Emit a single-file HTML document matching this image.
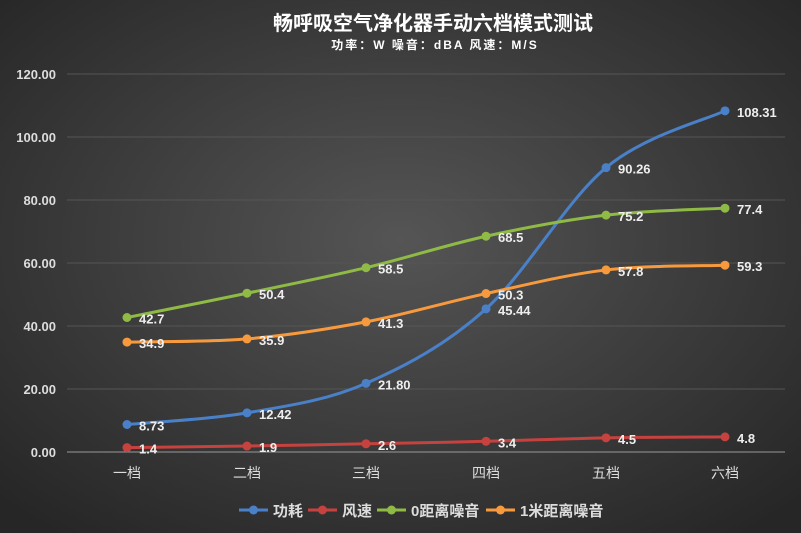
<!DOCTYPE html>
<html><head><meta charset="utf-8"><style>
html,body{margin:0;padding:0;width:801px;height:533px;overflow:hidden;background:#333;}
svg{display:block;font-family:"Liberation Sans","Noto Sans CJK SC",sans-serif;}
</style></head><body>
<svg id="c" width="801" height="533" xmlns="http://www.w3.org/2000/svg">
<defs><radialGradient id="bg" cx="50%" cy="45%" r="70%">
<stop offset="0" stop-color="#555"/><stop offset="1" stop-color="#262626"/></radialGradient></defs>
<rect width="801" height="533" fill="url(#bg)"/>
<text x="433" y="30" text-anchor="middle" fill="#fff" font-size="20" font-weight="bold" font-family="'Noto Sans CJK SC',sans-serif">畅呼吸空气净化器手动六档模式测试</text>
<text x="435" y="49" text-anchor="middle" fill="#fff" font-size="12" font-weight="bold" letter-spacing="2" font-family="'Liberation Sans','Noto Sans CJK SC',sans-serif">功率：W  噪音：dBA  风速：M/S</text>
<g id="g"></g>
</svg>
<script>
const g=document.getElementById('g');let h='';
const y0=452,k=378/120,xs=[127,247,366,486,606,725];
for(let v=0;v<=120;v+=20){const y=y0-v*k;
h+=`<line x1="67" x2="785" y1="${y}" y2="${y}" stroke="${v==0?'#999':'#555'}" stroke-width="1"/>`;
h+=`<text x="56" y="${y+5}" text-anchor="end" fill="#ddd" font-size="13" font-weight="bold">${v.toFixed(2)}</text>`;}
['一档','二档','三档','四档','五档','六档'].forEach((t,i)=>h+=`<text x="${xs[i]}" y="478" text-anchor="middle" fill="#ddd" font-size="14">${t}</text>`);
const S=[
{n:'功耗',c:'#4a80c8',d:[8.73,12.42,21.80,45.44,90.26,108.31],l:['8.73','12.42','21.80','45.44','90.26','108.31']},
{n:'风速',c:'#c5423f',d:[1.4,1.9,2.6,3.4,4.5,4.8]},
{n:'0距离噪音',c:'#8fba45',d:[42.7,50.4,58.5,68.5,75.2,77.4]},
{n:'1米距离噪音',c:'#f79a3e',d:[34.9,35.9,41.3,50.3,57.8,59.3]}];
S.forEach(s=>{const P=s.d.map((v,i)=>[xs[i],y0-v*k]);let d=`M${P[0][0]},${P[0][1]}`;
for(let i=0;i<P.length-1;i++){const p0=P[Math.max(0,i-1)],p1=P[i],p2=P[i+1],p3=P[Math.min(P.length-1,i+2)],t=6;
d+=` C${p1[0]+(p2[0]-p0[0])/t},${p1[1]+(p2[1]-p0[1])/t} ${p2[0]-(p3[0]-p1[0])/t},${p2[1]-(p3[1]-p1[1])/t} ${p2[0]},${p2[1]}`;}
h+=`<path d="${d}" fill="none" stroke="${s.c}" stroke-width="3"/>`;
P.forEach((p,i)=>{h+=`<circle cx="${p[0]}" cy="${p[1]}" r="4.5" fill="${s.c}"/>`;
h+=`<text x="${p[0]+12}" y="${p[1]+6}" fill="#eee" font-size="13" font-weight="bold">${s.l?s.l[i]:s.d[i]}</text>`;});});
const lx=[239,308,377,486],tx=[273,342,411,520];
S.forEach((s,i)=>{const x=lx[i];h+=`<line x1="${x}" x2="${x+29}" y1="510" y2="510" stroke="${s.c}" stroke-width="3"/><circle cx="${x+14.5}" cy="510" r="4.5" fill="${s.c}"/><text x="${tx[i]}" y="516" fill="#ddd" font-size="15" font-weight="bold">${s.n}</text>`;});
g.innerHTML=h;
</script>
</body></html>
